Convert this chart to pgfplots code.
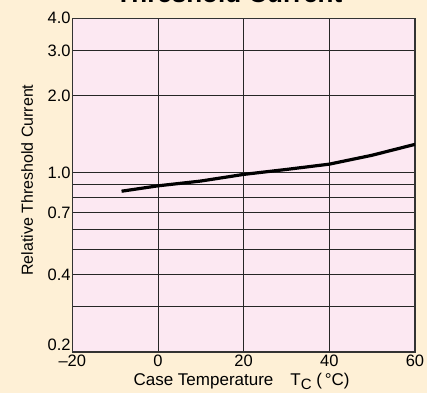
\documentclass[border=0pt]{standalone}
\usepackage{fontspec}
\setmainfont{Liberation Sans}
\usepackage{pgfplots}
\pgfplotsset{compat=1.18}
\definecolor{cream}{RGB}{254,240,214}
\definecolor{pinkbg}{RGB}{252,232,242}
\begin{document}
\begin{tikzpicture}
\path[use as bounding box, fill=cream] (-72.3bp,-41bp) rectangle (354.7bp,352bp);
\begin{axis}[
  at={(0,0)}, anchor=south west,
  width=342.7bp, height=333.7bp, scale only axis,
  ymode=log, xmin=-20, xmax=60, ymin=0.2, ymax=4,
  xtick={-20,0,20,40,60}, xticklabels={–20,0,20,40,60},
  ytick={0.2,0.3,0.4,0.5,0.6,0.7,0.8,0.9,1,2,3,4},
  yticklabels={\raisebox{1.5bp}[0pt][0pt]{0.2},,0.4,,,0.7,,,1.0,2.0,3.0,4.0},
  grid=major,
  major tick length=0pt, minor tick length=0pt,
  axis background/.style={fill=pinkbg},
  axis line style={draw=black!80, line width=1.5bp},
  major grid style={draw=black!85, line width=0.9bp},
  /pgf/number format/assume math mode=true,
  ticklabel style={font=\fontsize{16.5bp}{19bp}\selectfont},
  yticklabel style={inner xsep=1.5bp},
  xticklabel style={inner ysep=2.5bp},
  title={Threshold Current},
  title style={font=\fontsize{26bp}{30bp}\selectfont\bfseries, at={(axis description cs:0.457,1.030)}, anchor=base},
  xlabel={Case Temperature\quad T{\fontsize{15bp}{15bp}\selectfont\raisebox{-4bp}{C}} (\,\textdegree C)},
  xlabel style={font=\fontsize{17bp}{20bp}\selectfont, at={(axis description cs:0.494,-0.0989)}, anchor=base},
  ylabel={Relative Threshold Current},
  ylabel style={font=\fontsize{16bp}{19bp}\selectfont, at={(axis description cs:-0.1147,0.515)}, anchor=base},
]
\addplot[black, line width=3.2bp, line join=round] coordinates {
  (-8.5,0.847) (0,0.889) (10,0.928) (20,0.985) (30,1.03) (40,1.08) (50,1.17) (60,1.29)
};
\end{axis}
\end{tikzpicture}
\end{document}
